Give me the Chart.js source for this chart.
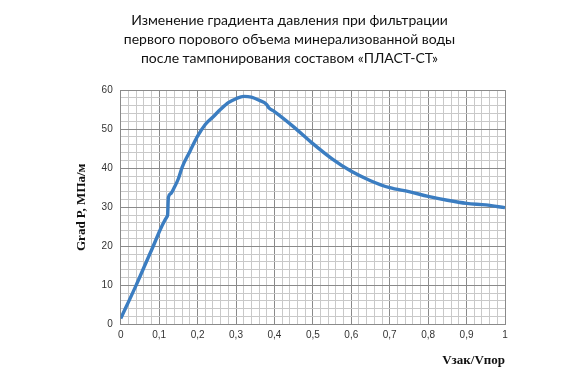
<!DOCTYPE html>
<html>
<head>
<meta charset="utf-8">
<script src="https://cdn.jsdelivr.net/npm/chart.js@4"></script>
<style>
  html, body { margin: 0; padding: 0; background: #fff; }
  #wrap { width: 567px; height: 374px; }
</style>
</head>
<body>
<div id="wrap"><canvas id="gradChart" width="567" height="374"></canvas></div>
<script>
// --- Дані ---
const titleLines = [
  "Изменение градиента давления при фильтрации",
  "первого порового объема минерализованной воды",
  "после тампонирования составом «ПЛАСТ-СТ»",
];
const volumeRatio = [0, 0.04, 0.08, 0.12, 0.122, 0.124, 0.13, 0.14, 0.15, 0.16, 0.18, 0.2, 0.22, 0.24,
  0.26, 0.28, 0.3, 0.32, 0.34, 0.36, 0.38, 0.385, 0.4, 0.45, 0.5, 0.55, 0.6, 0.65, 0.7, 0.75,
  0.8, 0.85, 0.9, 0.95, 1.0];
const gradP = [1.5, 10, 19, 27.5, 28, 32.5, 33.5, 35.2, 37.3, 40.3, 44.3, 48.2, 51.2, 53.1,
  55.1, 56.8, 57.8, 58.4, 58.2, 57.4, 56.3, 55.5, 54.5, 50.6, 46.3, 42.4, 39.2, 36.8, 35, 34,
  32.8, 31.8, 31, 30.6, 29.9];
const yAxisTitle = "Grad P, МПа/м";
const xAxisTitle = "Vзак/Vпор";

const points = volumeRatio.map((v, i) => ({ x: v, y: gradP[i] }));

// --- сітка: основні лінії темніші ---
function gridColor(ctx, step) {
  const v = ctx.tick ? ctx.tick.value : 0;
  const r = Math.round(v / step * 1000) / 1000;
  return Math.abs(r - Math.round(r)) < 1e-6 ? "#8a8a8a" : "#c9c9c9";
}

const ctx = document.getElementById("gradChart").getContext("2d");
new Chart(ctx, {
  type: "line",
  data: {
    datasets: [{
      data: points,
      borderColor: "#3b7dc1",
      borderWidth: 3.4,
      pointRadius: 0,
      cubicInterpolationMode: "monotone",
      fill: false,
    }],
  },
  options: {
    responsive: false,
    animation: false,
    layout: { padding: { left: 74, right: 62, top: 0, bottom: 6 } },
    plugins: {
      legend: { display: false },
      tooltip: { enabled: false },
      title: {
        display: true,
        text: titleLines,
        color: "#111",
        font: { family: "Lato", size: 14, weight: "normal", lineHeight: 1.36 },
        padding: { top: 11, bottom: 22 },
      },
    },
    scales: {
      x: {
        type: "linear",
        min: 0,
        max: 1,
        ticks: {
          stepSize: 0.02,
          autoSkip: false,
          maxRotation: 0,
          padding: 5,
          color: "#333",
          font: { family: "Liberation Sans", size: 10 },
          callback: (v) => {
            const r = Math.round(v * 100);
            if (r % 10 !== 0) return "";
            return r === 0 ? "0" : r === 100 ? "1" : (r / 100).toFixed(1).replace(".", ",");
          },
        },
        grid: { color: (c) => gridColor(c, 0.1), drawTicks: false, lineWidth: 1 },
        border: { color: "#8a8a8a" },
        title: {
          display: true,
          text: xAxisTitle,
          align: "end",
          color: "#111",
          font: { family: "Liberation Serif", size: 13, weight: "bold" },
          padding: { top: 6, bottom: 0 },
        },
      },
      y: {
        min: 0,
        max: 60,
        ticks: {
          stepSize: 2,
          autoSkip: false,
          padding: 8,
          color: "#333",
          font: { family: "Liberation Sans", size: 10 },
          callback: (v) => (v % 10 === 0 ? String(v) : ""),
        },
        grid: { color: (c) => gridColor(c, 10), drawTicks: false, lineWidth: 1 },
        border: { color: "#8a8a8a" },
        title: {
          display: true,
          text: yAxisTitle,
          color: "#111",
          font: { family: "Liberation Serif", size: 13, weight: "bold" },
          padding: { top: 0, bottom: 4 },
        },
      },
    },
  },
});
</script>
</body>
</html>
